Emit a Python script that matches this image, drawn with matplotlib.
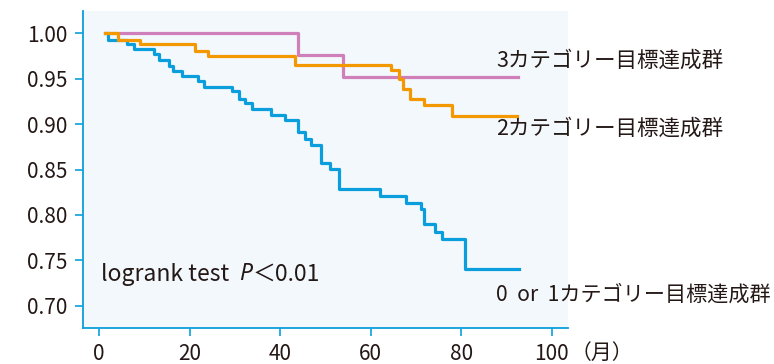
import matplotlib
matplotlib.use("Agg")
import matplotlib.pyplot as plt

plt.rcParams['font.family'] = ['Noto Sans CJK JP', 'DejaVu Sans']

# ---- data (months, survival) ----
pink_t = [1.7, 43.9, 54.0, 92.6]
pink_v = [1.000, 0.976, 0.9515, 0.9515]

orange_t = [1.3, 4.3, 9.1, 21.3, 24.0, 43.3, 64.5, 66.3, 67.1, 68.8, 71.9, 78.0, 92.3]
orange_v = [1.000, 0.993, 0.988, 0.980, 0.975, 0.965, 0.960, 0.950, 0.939, 0.928,
            0.921, 0.909, 0.909]

blue_t = [1.3, 2.1, 6.1, 7.7, 12.2, 13.3, 15.5, 16.4, 18.3, 21.8, 23.3, 29.4, 31.0,
          32.3, 33.7, 38.1, 41.1, 44.0, 45.5, 46.8, 49.1, 51.0, 53.0, 62.1, 67.8,
          71.1, 71.9, 74.2, 75.7, 80.8, 92.8]
blue_v = [1.000, 0.993, 0.988, 0.983, 0.977, 0.971, 0.964, 0.958, 0.953, 0.947,
          0.941, 0.936, 0.928, 0.923, 0.917, 0.910, 0.904, 0.891, 0.884, 0.877,
          0.857, 0.851, 0.829, 0.821, 0.813, 0.806, 0.790, 0.781, 0.773, 0.740,
          0.740]

xticks = [0, 20, 40, 60, 80, 100]
yticks = [0.70, 0.75, 0.80, 0.85, 0.90, 0.95, 1.00]

labels = ['3カテゴリー目標達成群', '2カテゴリー目標達成群', '0  or  1カテゴリー目標達成群']

BLUE = '#0a9fdc'
ORANGE = '#f39800'
PINK = '#cf7fb9'
TXT = '#231815'

fig = plt.figure(figsize=(7.74, 3.64), dpi=100)
ax = fig.add_axes([83/774, 1-328/364, (568-83)/774, (328-11)/364])
ax.set_facecolor('#f3f8fc')

ax.step(pink_t, pink_v, where='post', color=PINK, lw=2.3, zorder=3)
ax.step(blue_t, blue_v, where='post', color=BLUE, lw=2.3, zorder=4)
ax.step(orange_t, orange_v, where='post', color=ORANGE, lw=2.3, zorder=5)

ax.set_xlim(-3.53, 103.6)
ax.set_ylim(0.6754, 1.0246)
ax.set_xticks(xticks)
ax.set_xticklabels([str(x) for x in xticks])
ax.set_yticks(yticks)
ax.set_yticklabels([f'{y:.2f}' for y in yticks])

for s in ['top', 'right']:
    ax.spines[s].set_visible(False)
for s in ['left', 'bottom']:
    ax.spines[s].set_color(BLUE)
    ax.spines[s].set_linewidth(1.3)
ax.tick_params(axis='both', colors=BLUE, labelcolor=TXT, length=6, width=1.2,
               labelsize=15)
ax.tick_params(axis='x', pad=5)
ax.tick_params(axis='y', pad=5)

# axis unit
fig.text(571/774, 1-353/364, '（月）', fontsize=15, color=TXT, va='center', ha='left')

# group labels
fs = 15.5
fig.text(496/774, 1-61/364, labels[0], fontsize=fs, color=TXT, va='center', ha='left')
fig.text(496/774, 1-129/364, labels[1], fontsize=fs, color=TXT, va='center', ha='left')
fig.text(496/774, 1-295/364, labels[2], fontsize=15.2, color=TXT, va='center', ha='left')

# logrank annotation
base = 1 - 281/364
t1 = fig.text(101/774, base, 'logrank test  ', fontsize=16.5, color=TXT,
              va='baseline', ha='left')
tp = ax.annotate('P', xy=(1, 0), xycoords=t1, va='bottom', ha='left', fontsize=16.5,
                 color=TXT, fontstyle='italic', family=['Noto Sans', 'DejaVu Sans'])
ax.annotate('＜0.01', xy=(1, 0), xycoords=tp, va='bottom', ha='left',
            fontsize=16.5, color=TXT)

fig.savefig('out.png', dpi=100)
